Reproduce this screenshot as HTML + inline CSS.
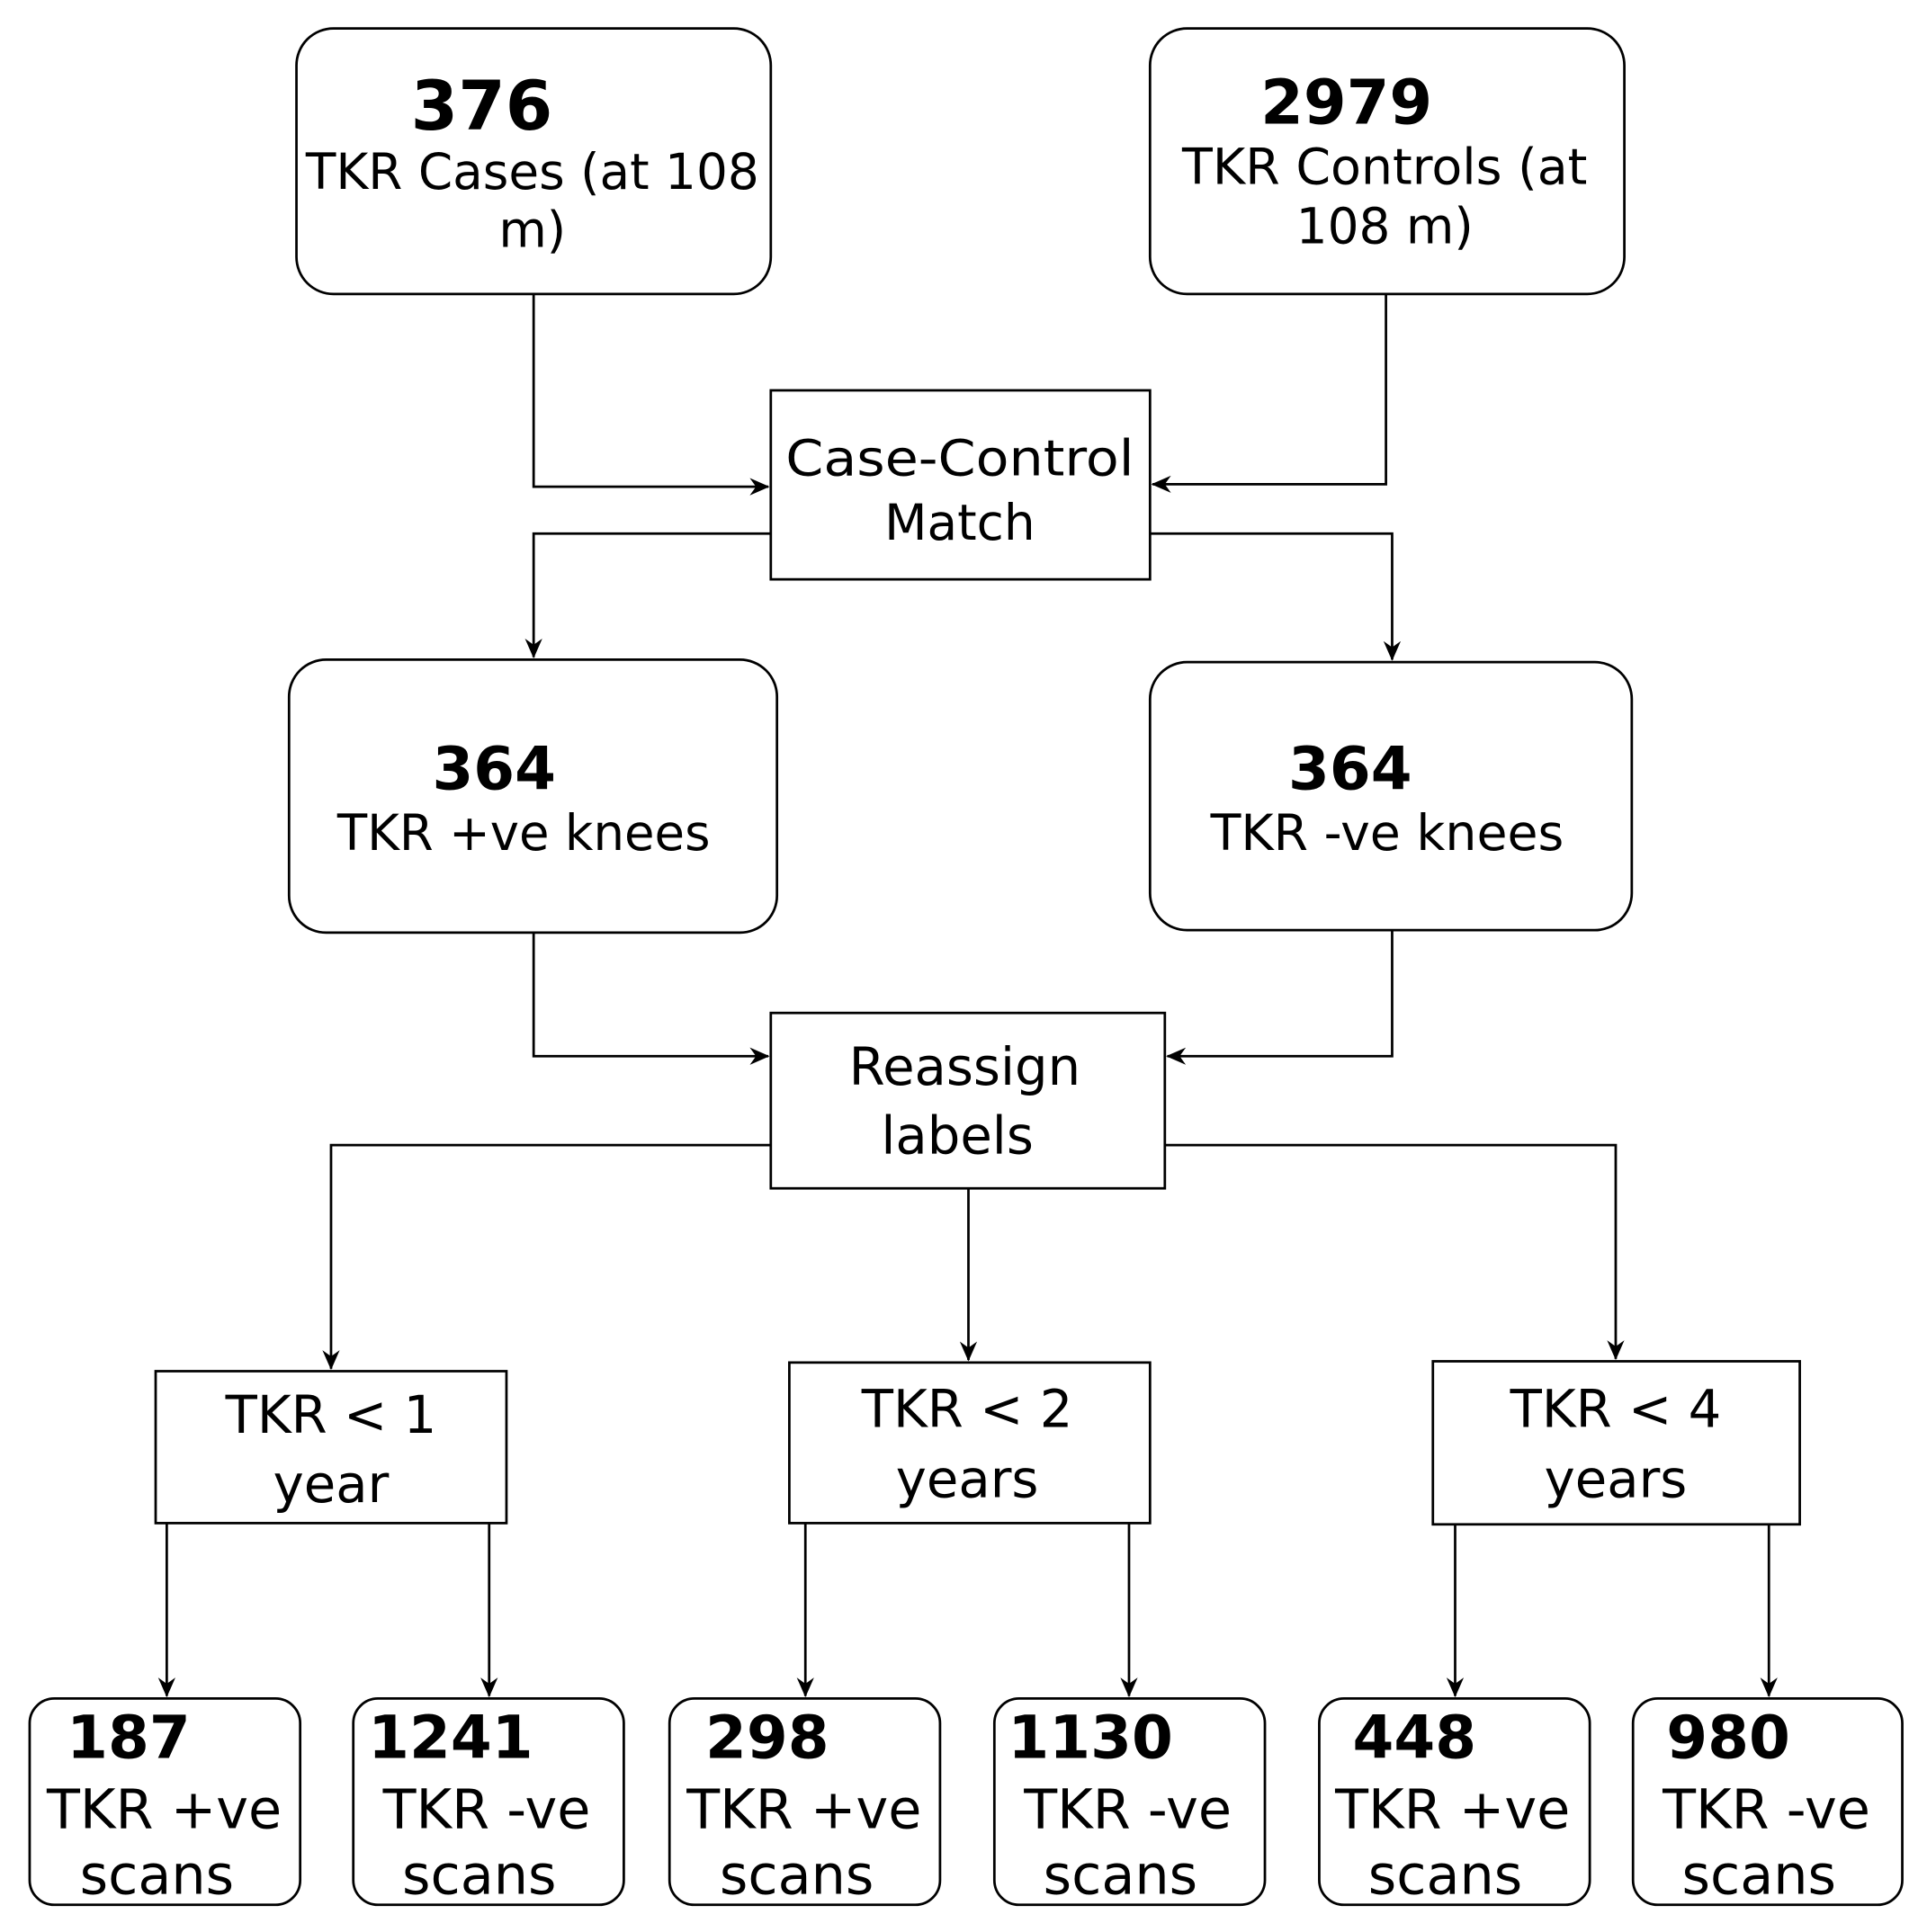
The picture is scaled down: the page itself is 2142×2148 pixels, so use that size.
<!DOCTYPE html>
<html><head><meta charset="utf-8"><style>html,body{margin:0;padding:0;background:#fff}svg{display:block}</style></head>
<body>
<svg width="2142" height="2148" viewBox="0 0 1560 1564" preserveAspectRatio="none" xmlns="http://www.w3.org/2000/svg">
<defs><marker id="a" markerWidth="16" markerHeight="16" refX="15" refY="8" orient="auto" markerUnits="userSpaceOnUse"><path d="M0,1 L16,8 L0,15 L5,8 Z" fill="#000"/></marker></defs>
<g fill="#fff" stroke="#000" stroke-width="2">
<rect x="240" y="23" width="384" height="215" rx="30"/>
<rect x="931" y="23" width="384" height="215" rx="30"/>
<rect x="624" y="316" width="307" height="153"/>
<rect x="234" y="534" width="395" height="221" rx="30"/>
<rect x="931" y="536" width="390" height="217" rx="30"/>
<rect x="624" y="820" width="319" height="142"/>
<rect x="126" y="1110" width="284" height="123"/>
<rect x="639" y="1103" width="292" height="130"/>
<rect x="1160" y="1102" width="297" height="132"/>
<rect x="24" y="1375" width="219" height="167" rx="20"/>
<rect x="286" y="1375" width="219" height="167" rx="20"/>
<rect x="542" y="1375" width="219" height="167" rx="20"/>
<rect x="805" y="1375" width="219" height="167" rx="20"/>
<rect x="1068" y="1375" width="219" height="167" rx="20"/>
<rect x="1322" y="1375" width="218" height="167" rx="20"/>
</g>
<g fill="none" stroke="#000" stroke-width="2" marker-end="url(#a)">
<path d="M432,238 V394 H622"/>
<path d="M1122,238 V392 H933"/>
<path d="M624,432 H432 V532"/>
<path d="M931,432 H1127 V534"/>
<path d="M432,755 V855 H622"/>
<path d="M1127,753 V855 H945"/>
<path d="M624,927 H268 V1108"/>
<path d="M784,962 V1101"/>
<path d="M943,927 H1308 V1100"/>
<path d="M135,1233 V1373"/>
<path d="M396,1233 V1373"/>
<path d="M652,1233 V1373"/>
<path d="M914,1233 V1373"/>
<path d="M1178,1234 V1373"/>
<path d="M1432,1234 V1373"/>
</g>
<g font-family="'DejaVu Sans','Liberation Sans',sans-serif" font-size="40" text-anchor="middle" fill="#000">
<text x="390" y="105" font-weight="bold" font-size="55">376</text>
<text x="431" y="153" textLength="367" lengthAdjust="spacingAndGlyphs">TKR Cases (at 108</text>
<text x="431" y="200">m)</text>
<text x="1090" y="100" font-weight="bold" font-size="50">2979</text>
<text x="1121" y="149" textLength="328" lengthAdjust="spacingAndGlyphs">TKR Controls (at</text>
<text x="1121" y="197">108 m)</text>
<text x="777" y="385" textLength="282" lengthAdjust="spacingAndGlyphs">Case-Control</text>
<text x="777" y="437">Match</text>
<text x="400" y="639" font-weight="bold" font-size="48">364</text>
<text x="424" y="688" textLength="302" lengthAdjust="spacingAndGlyphs">TKR +ve knees</text>
<text x="1093" y="639" font-weight="bold" font-size="48">364</text>
<text x="1123" y="688" textLength="286" lengthAdjust="spacingAndGlyphs">TKR -ve knees</text>
<text x="781" y="878" font-size="42">Reassign</text>
<text x="775" y="934" font-size="42">labels</text>
<text x="268" y="1160" font-size="42">TKR &lt; 1</text>
<text x="268" y="1216" font-size="42">year</text>
<text x="783" y="1155" font-size="42">TKR &lt; 2</text>
<text x="783" y="1212" font-size="42">years</text>
<text x="1308" y="1155" font-size="42">TKR &lt; 4</text>
<text x="1308" y="1212" font-size="42">years</text>
<g text-anchor="start" font-weight="bold" font-size="48">
<text x="54" y="1423">187</text>
<text x="298" y="1423">1241</text>
<text x="571" y="1423">298</text>
<text x="816" y="1423">1130</text>
<text x="1095" y="1423">448</text>
<text x="1349" y="1423">980</text>
</g>
<g font-size="44">
<text x="133" y="1480">TKR +ve</text>
<text x="127" y="1533">scans</text>
<text x="394" y="1480">TKR -ve</text>
<text x="388" y="1533">scans</text>
<text x="651" y="1480">TKR +ve</text>
<text x="645" y="1533">scans</text>
<text x="913" y="1480">TKR -ve</text>
<text x="907" y="1533">scans</text>
<text x="1176" y="1480">TKR +ve</text>
<text x="1170" y="1533">scans</text>
<text x="1430" y="1480">TKR -ve</text>
<text x="1424" y="1533">scans</text>
</g>
</g>
</svg>
</body></html>
